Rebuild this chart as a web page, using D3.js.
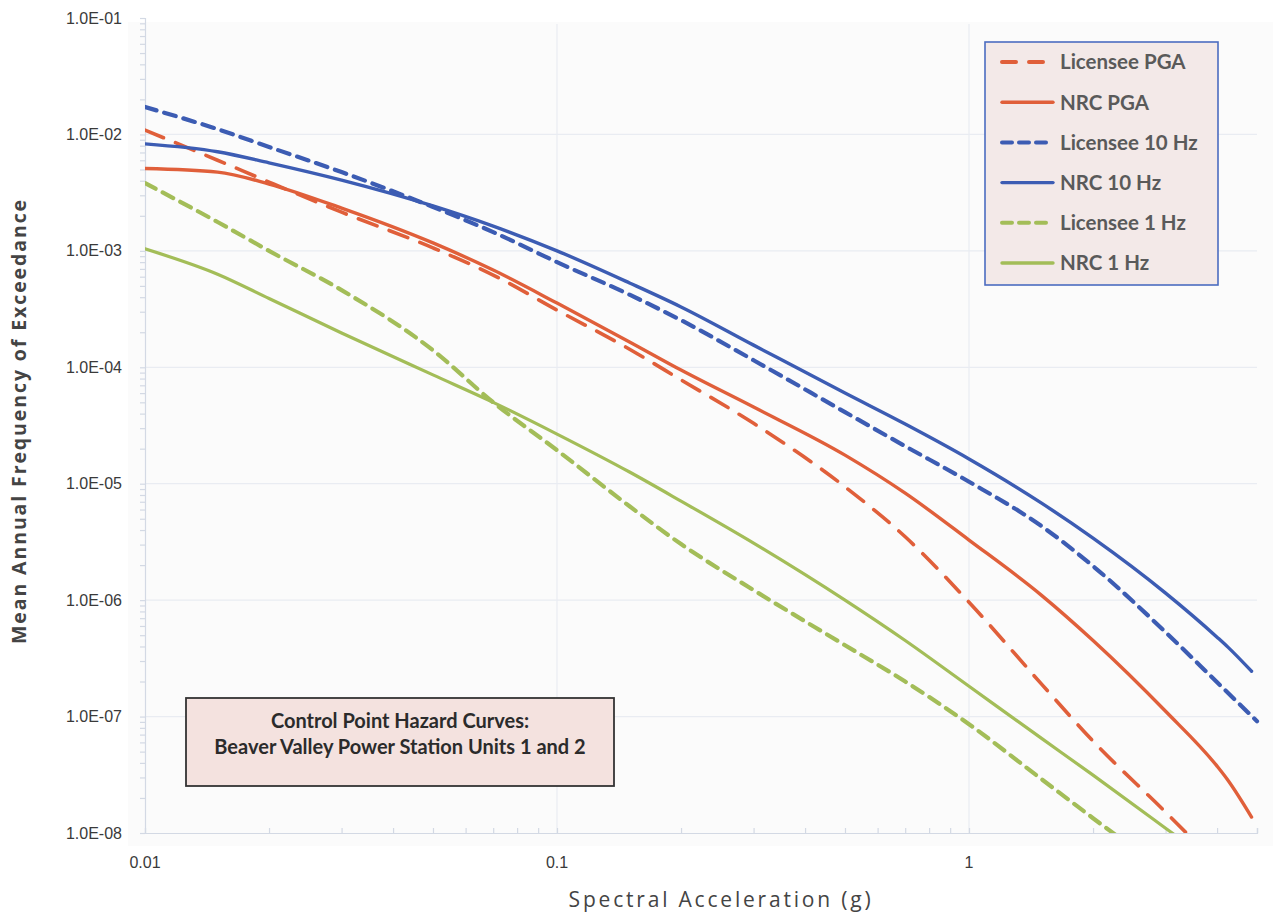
<!DOCTYPE html>
<html>
<head>
<meta charset="utf-8">
<script src="https://cdn.jsdelivr.net/npm/d3@7/dist/d3.min.js"></script>
<style>
  html, body { margin: 0; padding: 0; background: #ffffff; }
  svg { display: block; }
</style>
</head>
<body>
<svg id="chart" width="1279" height="917"></svg>
<script>
// Spectral acceleration (g) at which each hazard curve is sampled
const accel = [0.01, 0.015, 0.02, 0.03, 0.05, 0.07, 0.1, 0.15, 0.2, 0.3, 0.5, 0.7, 1, 1.5, 2, 3, 4];

// Mean annual frequency of exceedance for each curve
const licenseePGA  = [1.09e-2, 6.0e-3, 3.9e-3, 2.15e-3, 1.06e-3, 6.2e-4, 3.1e-4, 1.43e-4, 7.8e-5, 3.3e-5, 9.4e-6, 3.5e-6, 9.6e-7, 1.9e-7, 6.15e-8, 1.51e-8, 5.4e-9];
const nrcPGA       = [5.1e-3, 4.75e-3, 3.75e-3, 2.33e-3, 1.17e-3, 6.84e-4, 3.56e-4, 1.65e-4, 9.46e-5, 4.55e-5, 1.76e-5, 8.3e-6, 3.28e-6, 1.1e-6, 4.5e-7, 1.11e-7, 3.75e-8];
const licensee10Hz = [1.72e-2, 1.11e-2, 7.8e-3, 4.75e-3, 2.38e-3, 1.45e-3, 8.0e-4, 4.2e-4, 2.54e-4, 1.15e-4, 4.12e-5, 2.1e-5, 1.04e-5, 4.32e-6, 1.96e-6, 5.31e-7, 1.97e-7];
const nrc10Hz      = [8.3e-3, 7.1e-3, 5.7e-3, 4.05e-3, 2.43e-3, 1.63e-3, 1.0e-3, 5.3e-4, 3.3e-4, 1.55e-4, 6.0e-5, 3.25e-5, 1.63e-5, 6.81e-6, 3.41e-6, 1.15e-6, 4.81e-7];
const licensee1Hz  = [3.82e-3, 1.77e-3, 1.0e-3, 4.6e-4, 1.4e-4, 5.0e-5, 1.94e-5, 6.4e-6, 3.03e-6, 1.22e-6, 4.1e-7, 2.0e-7, 8.6e-8, 2.9e-8, 1.34e-8, 4.6e-9, 2.0e-9];
const nrc1Hz       = [1.04e-3, 6.3e-4, 3.9e-4, 1.97e-4, 8.6e-5, 5.0e-5, 2.67e-5, 1.26e-5, 7.09e-6, 3.09e-6, 1.0e-6, 4.5e-7, 1.82e-7, 6.5e-8, 3.14e-8, 1.1e-8, 5.2e-9];

// Extra samples at the high-acceleration end of the curves that run to the right edge
const tailAccel  = [4.25, 4.85];
const tailNrc10  = [3.95e-7, 2.45e-7];
const tailNrcPGA = [2.84e-8, 1.37e-8];
const tailLic10X = [5];
const tailLic10  = [9.13e-8];

// Axis tick labels
const yTickValues = [1e-1, 1e-2, 1e-3, 1e-4, 1e-5, 1e-6, 1e-7, 1e-8];
const yTickLabels = ["1.0E-01", "1.0E-02", "1.0E-03", "1.0E-04", "1.0E-05", "1.0E-06", "1.0E-07", "1.0E-08"];
const xTickValues = [0.01, 0.1, 1];
const xTickLabels = ["0.01", "0.1", "1"];

const seriesNames = ["Licensee PGA", "NRC PGA", "Licensee 10 Hz", "NRC 10 Hz", "Licensee 1 Hz", "NRC 1 Hz"];

const RED = "#e05f3a", BLUE = "#3c5cb3", GREEN = "#a3bd58";

const series = [
  { name: seriesNames[0], x: accel, y: licenseePGA, color: RED, dash: "20,13", width: 3.6 },
  { name: seriesNames[1], x: accel.concat(tailAccel), y: nrcPGA.concat(tailNrcPGA), color: RED, dash: null, width: 3.4 },
  { name: seriesNames[2], x: accel.concat(tailLic10X), y: licensee10Hz.concat(tailLic10), color: BLUE, dash: "12,8", width: 4.2 },
  { name: seriesNames[3], x: accel.concat(tailAccel), y: nrc10Hz.concat(tailNrc10), color: BLUE, dash: null, width: 3.4 },
  { name: seriesNames[4], x: accel, y: licensee1Hz, color: GREEN, dash: "12,8", width: 4.2 },
  { name: seriesNames[5], x: accel, y: nrc1Hz, color: GREEN, dash: null, width: 3.2 }
];

const svg = d3.select("#chart");

const plot = { left: 145, right: 1257, top: 18, bottom: 833 };

const x = d3.scaleLog().domain([0.01, 5]).range([plot.left, plot.right]);
const y = d3.scaleLog().domain([1e-8, 1e-1]).range([plot.bottom, plot.top]);

// Plot area background
svg.append("rect")
  .attr("x", 128).attr("y", 22)
  .attr("width", 1145).attr("height", 824)
  .attr("fill", "#fbfbfb");

// Gridlines at each decade
const grid = svg.append("g").attr("stroke", "#e9ecf2").attr("stroke-width", 1.2);
grid.selectAll("line.h").data(yTickValues.slice(1, -1)).join("line")
  .attr("x1", plot.left).attr("x2", plot.right)
  .attr("y1", d => y(d)).attr("y2", d => y(d));
grid.selectAll("line.v").data([0.1, 1]).join("line")
  .attr("x1", d => x(d)).attr("x2", d => x(d))
  .attr("y1", y(1e-1) + 6).attr("y2", plot.bottom);

// Axes: log scale with minor ticks, labels drawn separately
const axisColor = "#d3d9e4";
const minorY = [];
for (let e = -8; e < -1; e++) for (let m = 1; m < 10; m++) minorY.push(m * Math.pow(10, e));
minorY.push(1e-1);
const yAxis = svg.append("g")
  .attr("transform", `translate(${plot.left},0)`)
  .call(d3.axisLeft(y).tickValues(minorY).tickSize(5).tickFormat(""));
yAxis.selectAll("path, line").attr("stroke", axisColor).attr("stroke-width", 1.2);

const minorX = [];
for (let e = -2; e < 1; e++) for (let m = 1; m < 10; m++) { const v = m * Math.pow(10, e); if (v <= 5) minorX.push(v); }
minorX.push(5);
const xAxis = svg.append("g")
  .attr("transform", `translate(0,${plot.bottom})`)
  .call(d3.axisTop(x).tickValues(minorX).tickSize(5).tickFormat(""));
xAxis.selectAll("path, line").attr("stroke", axisColor).attr("stroke-width", 1.2);

// Tick labels
svg.append("g").selectAll("text").data(yTickValues).join("text")
  .attr("x", 122).attr("y", d => y(d))
  .attr("dy", "0.35em")
  .attr("text-anchor", "end")
  .attr("font-family", "'Liberation Sans', Arial, sans-serif")
  .attr("font-size", 16)
  .attr("fill", "#3a3a3a")
  .text((d, i) => yTickLabels[i]);

svg.append("g").selectAll("text").data(xTickValues).join("text")
  .attr("x", d => x(d)).attr("y", 868)
  .attr("text-anchor", "middle")
  .attr("font-family", "'Liberation Sans', Arial, sans-serif")
  .attr("font-size", 16)
  .attr("fill", "#3a3a3a")
  .text((d, i) => xTickLabels[i]);

// Axis titles
svg.append("text")
  .attr("x", 721).attr("y", 907)
  .attr("text-anchor", "middle")
  .attr("font-family", "'Open Sans', sans-serif")
  .attr("font-size", 21)
  .attr("letter-spacing", 2.8)
  .attr("fill", "#444")
  .text("Spectral Acceleration (g)");

svg.append("text")
  .attr("transform", "translate(26,421) rotate(-90)")
  .attr("text-anchor", "middle")
  .attr("font-family", "'Open Sans', sans-serif")
  .attr("font-weight", 700)
  .attr("font-size", 19.5)
  .attr("letter-spacing", 1.9)
  .attr("fill", "#444")
  .text("Mean Annual Frequency of Exceedance");

// Curves
svg.append("clipPath").attr("id", "plotClip")
  .append("rect").attr("x", plot.left).attr("y", plot.top - 2)
  .attr("width", plot.right - plot.left + 10).attr("height", plot.bottom - plot.top + 2);

const line = d3.line().curve(d3.curveMonotoneX);
const curves = svg.append("g").attr("clip-path", "url(#plotClip)");
// draw so the solid NRC lines sit over the dashed ones
[4, 5, 0, 1, 2, 3].forEach(i => {
  const s = series[i];
  curves.append("path")
    .attr("d", line(s.x.map((v, j) => [x(v), y(s.y[j])])))
    .attr("fill", "none")
    .attr("stroke", s.color)
    .attr("stroke-width", s.width)
    .attr("stroke-dasharray", s.dash)
    .attr("stroke-linecap", "round")
    .attr("stroke-linejoin", "round");
});

// Legend
const lg = svg.append("g");
lg.append("rect")
  .attr("x", 985).attr("y", 42).attr("width", 233).attr("height", 243)
  .attr("fill", "#f3e9e8").attr("stroke", "#4b6cc0").attr("stroke-width", 1.6);
const rowY = d3.scaleLinear().domain([0, 5]).range([62, 263]);
series.forEach((s, i) => {
  const yy = rowY(i);
  lg.append("line")
    .attr("x1", 1002).attr("x2", 1053).attr("y1", yy).attr("y2", yy)
    .attr("stroke", s.color).attr("stroke-width", s.dash ? 4 : 3.4)
    .attr("stroke-dasharray", s.dash ? (i === 0 ? "14,13" : "10,7") : null)
    .attr("stroke-linecap", "round");
  lg.append("text")
    .attr("x", 1060).attr("y", yy).attr("dy", "0.36em")
    .attr("font-family", "Lato, 'Open Sans', sans-serif")
    .attr("font-weight", 700)
    .attr("font-size", 20.5)
    .attr("fill", "#5a5a5a")
    .text(s.name);
});

// Title box
const tb = svg.append("g");
tb.append("rect")
  .attr("x", 186).attr("y", 698).attr("width", 428).attr("height", 88)
  .attr("fill", "#f4e2df").attr("stroke", "#333").attr("stroke-width", 1.8);
tb.append("text")
  .attr("x", 400).attr("y", 728)
  .attr("text-anchor", "middle")
  .attr("font-family", "Lato, 'Open Sans', sans-serif")
  .attr("font-weight", 700).attr("font-size", 20).attr("fill", "#2b2b2b")
  .text("Control Point Hazard Curves:");
tb.append("text")
  .attr("x", 400).attr("y", 754)
  .attr("text-anchor", "middle")
  .attr("font-family", "Lato, 'Open Sans', sans-serif")
  .attr("font-weight", 700).attr("font-size", 20).attr("fill", "#2b2b2b")
  .text("Beaver Valley Power Station Units 1 and 2");
</script>
</body>
</html>
